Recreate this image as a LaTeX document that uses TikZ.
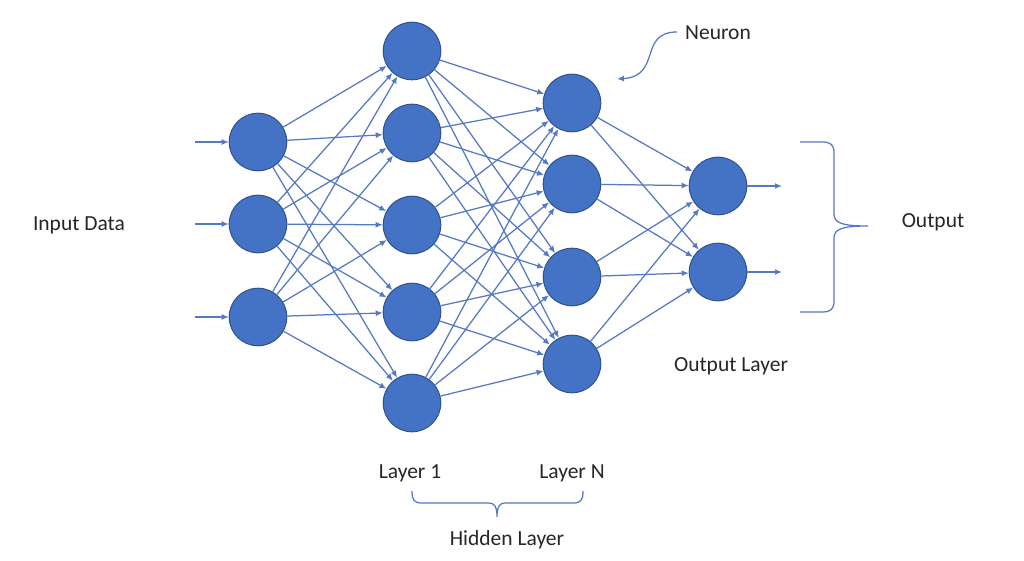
\documentclass[tikz,border=0pt]{standalone}
\usepackage{fontspec}
\setmainfont{Carlito}
\usetikzlibrary{arrows.meta}
\definecolor{cellblue}{HTML}{4472C4}
\definecolor{rimblue}{HTML}{2F528F}
\definecolor{wireblue}{HTML}{5579C4}
\definecolor{inkgray}{HTML}{262626}

\tikzset{
    neuron/.style={circle, draw=rimblue, line width=1pt, fill=cellblue, minimum size=57.6pt, inner sep=0pt},
    conn/.style={wireblue, line width=1.25pt, -{Latex[length=7pt,width=6pt]}},
    bracket/.style={wireblue, line width=1.25pt},
    label/.style={inkgray, font=\fontsize{21.5}{26}\selectfont}
}

\begin{document}
\begin{tikzpicture}[x=1pt, y=-1pt]
    \useasboundingbox[fill=white] (0, 0) rectangle (1024, 561);

    % input layer
    \foreach \i / \y in {1/142, 2/224, 3/317} {
        \node[neuron] (in\i) at (258, \y) {};
        \coordinate (inS\i) at (195, \y);
        \draw[conn] (inS\i) -- (in\i);
    }

    % hidden layer 1
    \foreach \i / \y in {1/51, 2/133, 3/225, 4/312, 5/403}
        \node[neuron] (hA\i) at (412, \y) {};

    % hidden layer N
    \foreach \i / \y in {1/103, 2/184, 3/277, 4/364}
        \node[neuron] (hN\i) at (572, \y) {};

    % output layer
    \foreach \i / \y in {1/186, 2/272} {
        \node[neuron] (out\i) at (718, \y) {};
        \coordinate (outE\i) at (782, \y);
        \draw[conn] (out\i) -- (outE\i);
    }

    % wires
    \foreach \i in {1,...,3}
        \foreach \j in {1,...,5}
            \draw[conn] (in\i) -- (hA\j);
    \foreach \i in {1,...,5}
        \foreach \j in {1,...,4}
            \draw[conn] (hA\i) -- (hN\j);
    \foreach \i in {1,...,4}
        \foreach \j in {1,2}
            \draw[conn] (hN\i) -- (out\j);

    % labels
    \node[label] (inlbl) at (79, 225) {Input Data};
    \node[label] (neulbl) at (718, 33) {Neuron};
    \node[label] (outlbl) at (933, 222) {Output};
    \node[label] (olaylbl) at (731, 366) {Output Layer};
    \node[label] (l1lbl) at (410, 473) {Layer 1};
    \node[label] (lnlbl) at (572, 473) {Layer N};
    \node[label] (hidlbl) at (507, 540) {Hidden Layer};

    % neuron pointer
    \coordinate (neuS) at (677, 32);
    \coordinate (neuE) at (617, 79);
    \draw[conn] (neuS) .. controls (638, 32) and (662, 76) .. (neuE);

    % output brace
    \draw[bracket] (800, 142) -- (822, 142) .. controls (831, 142) and (834, 145) .. (834, 153)
        -- (834, 214) .. controls (834, 223) and (842, 226) .. (868, 226)
        .. controls (842, 226) and (834, 229) .. (834, 238)
        -- (834, 301) .. controls (834, 309) and (831, 312) .. (822, 312) -- (800, 312);

    % hidden brace
    \draw[bracket] (412, 491) .. controls (412, 500) and (414, 503) .. (422, 503)
        -- (489, 503) .. controls (494, 503) and (497, 506) .. (497, 517)
        .. controls (497, 506) and (500, 503) .. (505, 503)
        -- (573, 503) .. controls (581, 503) and (583, 500) .. (583, 491);

\end{tikzpicture}
\end{document}
